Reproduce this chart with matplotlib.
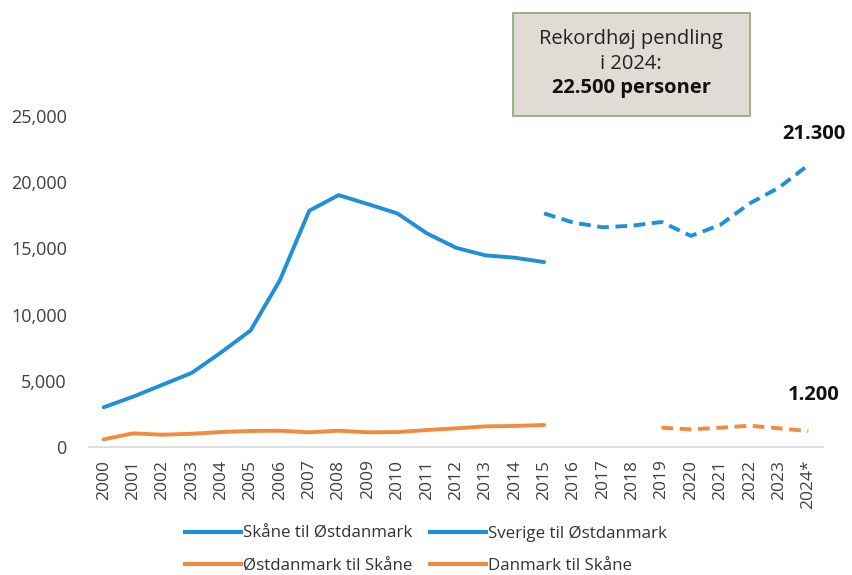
import numpy as np
import matplotlib
matplotlib.use("Agg")
import matplotlib.pyplot as plt
from matplotlib.lines import Line2D
from matplotlib.ticker import FuncFormatter

plt.rcParams['font.family'] = ['Open Sans', 'DejaVu Sans']

# years on the x axis
years = [str(y) for y in range(2000, 2024)] + ["2024*"]

# pendling per retning
skane_oest = [3000, 3800, 4700, 5600, 7150, 8800, 12600, 17850, 19030,
              18350, 17650, 16150, 15050, 14480, 14300, 13970]          # 2000-2015
sverige_oest = [17650, 16950, 16600, 16720, 17000, 15950, 16780,
                18400, 19600, 21300]                                    # 2015-2024
oest_skane = [580, 1030, 930, 1000, 1130, 1210, 1230, 1110, 1230,
              1110, 1130, 1280, 1410, 1560, 1590, 1660]                 # 2000-2015
danmark_skane = [1460, 1330, 1460, 1610, 1410, 1200]                    # 2019-2024

blue = "#1f8fd8"
orange = "#f28b3e"

fig = plt.figure(figsize=(8.52, 5.75), dpi=100)
ax = fig.add_axes([0.1045, 0.2226, 0.8615, 0.5755])

x = np.arange(len(years))
ax.plot(x[:16], skane_oest, color=blue, lw=2.8, solid_capstyle='round')
ax.plot(x[15:], sverige_oest, color=blue, lw=2.8, ls=(0, (3, 1.7)))
ax.plot(x[:16], oest_skane, color=orange, lw=2.8, solid_capstyle='round')
ax.plot(x[19:], danmark_skane, color=orange, lw=2.8, ls=(0, (3, 1.7)))

ax.set_xlim(-0.5, len(years) - 0.5)
ax.set_ylim(0, 25000)
ax.set_yticks(range(0, 25001, 5000))
ax.yaxis.set_major_formatter(FuncFormatter(lambda v, p: f"{int(v):,}"))
ax.set_xticks(x)
ax.set_xticklabels(years, rotation=90)

for s in ['top', 'right', 'left']:
    ax.spines[s].set_visible(False)
ax.spines['bottom'].set_color('#d9d9d9')
ax.spines['bottom'].set_linewidth(1.2)
ax.tick_params(axis='both', length=0, colors='#404040')
ax.tick_params(axis='y', labelsize=13, pad=16)
ax.tick_params(axis='x', labelsize=12.5, pad=9)

# end labels
for val, dy in ((sverige_oest[-1], 15), (danmark_skane[-1], 19)):
    ax.annotate(f"{val:,}".replace(",", "."), (x[-1], val),
                xytext=(4, dy), textcoords='offset points', ha='center', va='bottom',
                fontsize=14.5, fontweight='bold', color='#111111', annotation_clip=False)

# callout box
box = plt.Rectangle((512.7 / 852, 1 - 115.7 / 575), (750 - 512.7) / 852, (115.7 - 12.7) / 575,
                    transform=fig.transFigure, facecolor='#e0dbd5', edgecolor='#8aaa6e', lw=1.2)
fig.patches.append(box)
fig.text(631 / 852, 1 - 39 / 575, "Rekordhøj pendling", ha='center', va='center',
         fontsize=14.5, color='#222222')
fig.text(631 / 852, 1 - 64 / 575, "i 2024:", ha='center', va='center',
         fontsize=14.5, color='#222222')
fig.text(631 / 852, 1 - 88 / 575, "22.500 personer", ha='center', va='center',
         fontsize=14.5, fontweight='bold', color='#111111')

handles = [Line2D([], [], color=blue, lw=3), Line2D([], [], color=orange, lw=3),
           Line2D([], [], color=blue, lw=3), Line2D([], [], color=orange, lw=3)]
labels = ["Skåne til Østdanmark", "Østdanmark til Skåne",
          "Sverige til Østdanmark", "Danmark til Skåne"]
fig.legend(handles, labels, ncol=2, loc='center', bbox_to_anchor=(0.5, 1 - 550 / 575),
           frameon=False, fontsize=12.2, handlelength=3.3, handletextpad=0.15,
           columnspacing=1.0, labelspacing=0.95, labelcolor='#333333',
           borderpad=0.2)

fig.savefig("out.png", dpi=100)
